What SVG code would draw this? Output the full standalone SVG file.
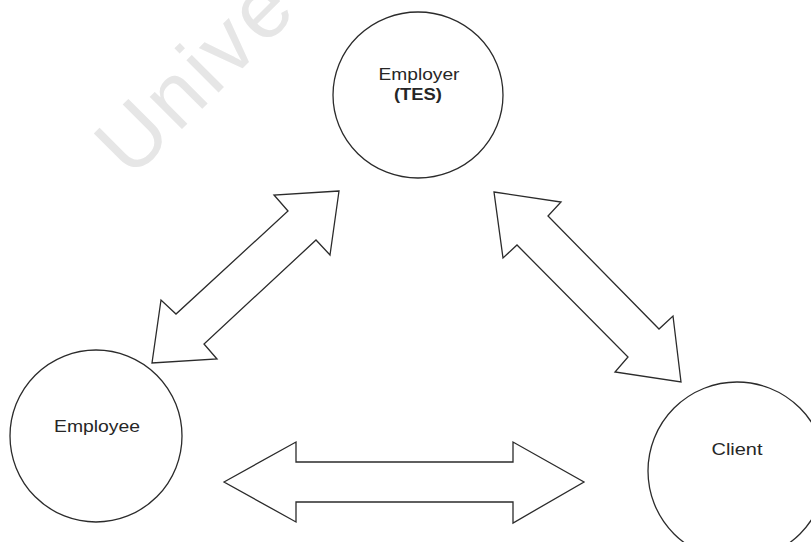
<svg xmlns="http://www.w3.org/2000/svg" width="811" height="542" viewBox="0 0 811 542">
  <style>
    .node-shape { fill: #ffffff; stroke: #2b2b2b; stroke-width: 1.3; }
    .arrow { fill: #ffffff; stroke: #2b2b2b; stroke-width: 1.3; stroke-linejoin: miter; }
    .label { font-family: "Liberation Sans", Arial, sans-serif; font-size: 16px; fill: #262626; text-anchor: middle; }
    .bold { font-weight: bold; }
    .watermark { font-family: "Liberation Sans", Arial, sans-serif; font-size: 86px; letter-spacing: 4px; fill: #e6e6e6; }
  </style>

  <rect width="811" height="542" fill="#ffffff"/>

  <!-- faint diagonal watermark -->
  <text class="watermark" transform="translate(131,180) rotate(-45)">Unive</text>

  <!-- double-headed block arrows between the parties -->
  <g id="connectors">
    <path class="arrow" d="M339,191 L274,195 L288,211 L176,314 L161,300 L152,363 L217,359 L204,344 L316,240 L330,255 Z"/>
    <path class="arrow" d="M494,192 L561,202 L548,216 L659,329 L673,316 L681,382 L615,372 L628,357 L517,245 L503,258 Z"/>
    <path class="arrow" d="M224,482 L296,442 L296,462 L513,462 L513,442 L584,482 L513,523 L513,502 L296,502 L296,522 Z"/>
  </g>

  <g id="employer">
    <ellipse class="node-shape" cx="418" cy="95" rx="85" ry="83"/>
    <text class="label" x="419" y="80" textLength="81" lengthAdjust="spacingAndGlyphs">Employer</text>
    <text class="label bold" x="418" y="100" textLength="48" lengthAdjust="spacingAndGlyphs">(TES)</text>
  </g>

  <g id="employee">
    <ellipse class="node-shape" cx="96" cy="436" rx="86" ry="86"/>
    <text class="label" x="97" y="432" textLength="86" lengthAdjust="spacingAndGlyphs">Employee</text>
  </g>

  <g id="client">
    <ellipse class="node-shape" cx="737" cy="471" rx="89" ry="89"/>
    <text class="label" x="737" y="455" textLength="51" lengthAdjust="spacingAndGlyphs">Client</text>
  </g>
</svg>
